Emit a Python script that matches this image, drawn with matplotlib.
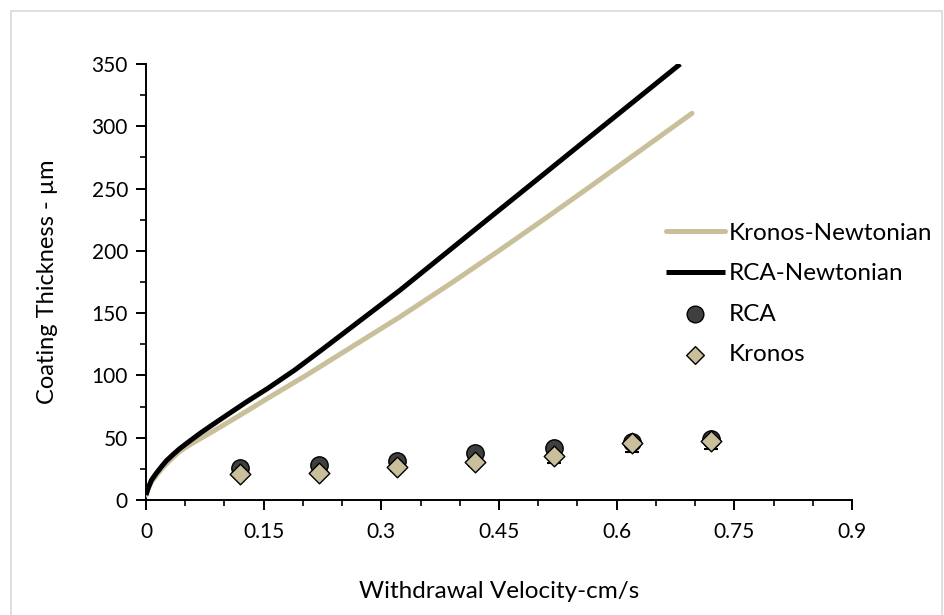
import matplotlib
matplotlib.use("Agg")
import matplotlib.pyplot as plt
from matplotlib.ticker import MultipleLocator
from matplotlib.patches import Rectangle

# ---- data ----
rca_newt_x = [0.0, 0.003, 0.007, 0.013, 0.02, 0.026, 0.035, 0.0425, 0.055, 0.07, 0.085,
              0.105, 0.1275, 0.155, 0.19, 0.225, 0.26, 0.324, 0.38, 0.434, 0.5, 0.566, 0.62, 0.681]
rca_newt_y = [4.0, 10.0, 16.0, 21.4, 27.0, 31.5, 36.8, 41.0, 47.0, 54.0, 60.5,
              69.0, 78.5, 89.5, 104.5, 121.0, 137.8, 168.5, 197.0, 224.5, 258.0, 291.6, 319.0, 350.0]

kro_newt_x = [0.0, 0.003, 0.007, 0.013, 0.02, 0.026, 0.035, 0.0425, 0.055, 0.07, 0.085,
              0.105, 0.1275, 0.16, 0.204, 0.26, 0.324, 0.39, 0.451, 0.51, 0.566, 0.63, 0.696]
kro_newt_y = [4.0, 9.0, 14.5, 19.5, 25.0, 29.0, 34.5, 38.8, 44.0, 49.5, 55.0,
              62.5, 71.0, 83.5, 100.0, 122.0, 147.1, 174.5, 200.6, 226.5, 251.5, 280.5, 310.4]

velocity = [0.12, 0.22, 0.32, 0.42, 0.52, 0.62, 0.72]
rca_thick = [26.0, 27.8, 31.0, 37.8, 41.7, 46.3, 48.7]
kronos_thick = [20.5, 21.5, 26.5, 30.5, 35.3, 45.5, 47.3]
kronos_err_low = [2.0, 2.0, 3.0, 3.0, 5.6, 7.2, 6.6]

xticks = [0, 0.15, 0.3, 0.45, 0.6, 0.75, 0.9]
xtick_labels = ["0", "0.15", "0.3", "0.45", "0.6", "0.75", "0.9"]
yticks = [0, 50, 100, 150, 200, 250, 300, 350]

TAN = "#c9bf9a"
DARK = "#3f3f3f"

plt.rcParams["font.family"] = ["Lato", "DejaVu Sans"]

fig = plt.figure(figsize=(9.45, 6.15), dpi=100)
ax = fig.add_axes([146/945, (615-500)/615, (852-146)/945, (500-64)/615])

ax.plot(kro_newt_x, kro_newt_y, color=TAN, lw=3.6, solid_capstyle="round",
        solid_joinstyle="round", label="Kronos-Newtonian", zorder=3)
ax.plot(rca_newt_x, rca_newt_y, color="black", lw=3.6, solid_capstyle="butt",
        solid_joinstyle="round", label="RCA-Newtonian", zorder=4)
ax.errorbar(velocity, kronos_thick, yerr=[kronos_err_low, [0]*len(velocity)], fmt="none",
            ecolor="black", elinewidth=1.0, capsize=5, capthick=1.5, zorder=4.5)
ax.scatter(velocity, rca_thick, s=12.5**2, marker="o", facecolor=DARK,
           edgecolor="black", linewidth=1.0, label="RCA", zorder=5)
ax.scatter(velocity, kronos_thick, s=10.5**2, marker="D", facecolor=TAN,
           edgecolor="black", linewidth=1.0, label="Kronos", zorder=6)

ax.set_xlim(0, 0.9)
ax.set_ylim(0, 350)
ax.set_xticks(xticks)
ax.set_xticklabels(xtick_labels)
ax.set_yticks(yticks)
ax.xaxis.set_minor_locator(MultipleLocator(0.05))
ax.yaxis.set_minor_locator(MultipleLocator(25))

for s in ["top", "right"]:
    ax.spines[s].set_visible(False)
for s in ["left", "bottom"]:
    ax.spines[s].set_linewidth(1.4)
    ax.spines[s].set_color("black")

ax.tick_params(which="major", direction="out", length=7, width=1.4, labelsize=15, pad=6)
ax.tick_params(which="minor", direction="out", length=4, width=1.2)
ax.tick_params(axis="x", pad=9)

ax.set_xlabel("Withdrawal Velocity-cm/s", fontsize=17.5, labelpad=28)
ax.set_ylabel("Coating Thickness - µm", fontsize=17, labelpad=24)

leg = ax.legend(loc="upper left", bbox_to_anchor=((656-146)/706, (500-213)/436),
                frameon=False, fontsize=17.5, handlelength=2.45, handletextpad=0.15,
                labelspacing=0.8, borderaxespad=0)
for h in leg.legend_handles:
    try:
        h.set_sizes([12**2] if h.get_label() == "RCA" else [9**2])
    except Exception:
        pass

fig.patches.append(Rectangle((11/945, -0.05), (942-11)/945, 1.05 - 11/615,
                             transform=fig.transFigure, fill=False,
                             edgecolor="#d9d9d9", linewidth=1.2))

fig.savefig("out.png", dpi=100)
